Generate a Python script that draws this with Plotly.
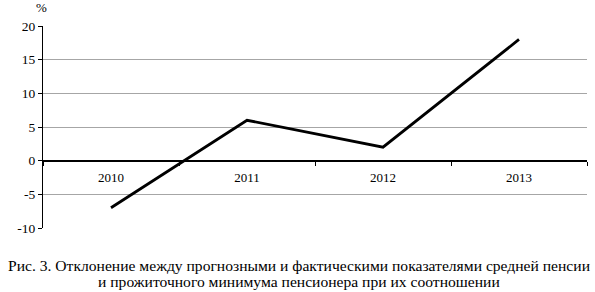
import plotly.graph_objects as go

years = ["2010", "2011", "2012", "2013"]
deviation = [-7, 6, 2, 18]
y_ticks = [-10, -5, 0, 5, 10, 15, 20]
y_tick_labels = ["-10", "-5", "0", "5", "10", "15", "20"]
caption_1 = "Рис. 3. Отклонение между прогнозными и фактическими показателями средней пенсии"
caption_2 = "и прожиточного минимума пенсионера при их соотношении"

font = "Liberation Serif"

fig = go.Figure()
fig.add_trace(go.Scatter(x=years, y=deviation, mode="lines",
                         line=dict(color="black", width=2.8), showlegend=False))

fig.update_layout(
    width=595, height=292,
    margin=dict(l=43, r=8, t=26, b=64),
    paper_bgcolor="white", plot_bgcolor="white",
    font=dict(family=font, size=13, color="black"),
    xaxis=dict(type="category", range=[-0.5, 3.5], anchor="free", position=1/3,
               showline=True, linecolor="black", linewidth=1.3,
               ticks="outside", tickson="boundaries", ticklen=4, tickcolor="black",
               ticklabelstandoff=5,
               showgrid=False, zeroline=False, tickfont=dict(size=13, family=font)),
    yaxis=dict(range=[-10, 20], tickvals=y_ticks, ticktext=y_tick_labels,
               showgrid=True, gridcolor="#a6a6a6",
               gridwidth=1, zeroline=True, zerolinecolor="black", zerolinewidth=1.3,
               showline=True, linecolor="black", linewidth=1.3,
               ticks="outside", ticklen=4, tickcolor="black",
               tickfont=dict(size=13.5, family=font)),
)

fig.add_annotation(text="%", xref="paper", yref="paper", x=0, y=1, xshift=-2, yshift=9,
                   xanchor="center", yanchor="bottom", showarrow=False,
                   font=dict(size=13, family=font))
fig.add_annotation(text=caption_1, xref="paper", yref="paper",
                   x=(299 - 43) / 544, y=0, yshift=-27, xanchor="center", yanchor="top",
                   showarrow=False, font=dict(size=15.6, family=font))
fig.add_annotation(text=caption_2, xref="paper", yref="paper",
                   x=(299 - 43) / 544, y=0, yshift=-43, xanchor="center", yanchor="top",
                   showarrow=False, font=dict(size=15.6, family=font))

fig.write_html("out.html")
